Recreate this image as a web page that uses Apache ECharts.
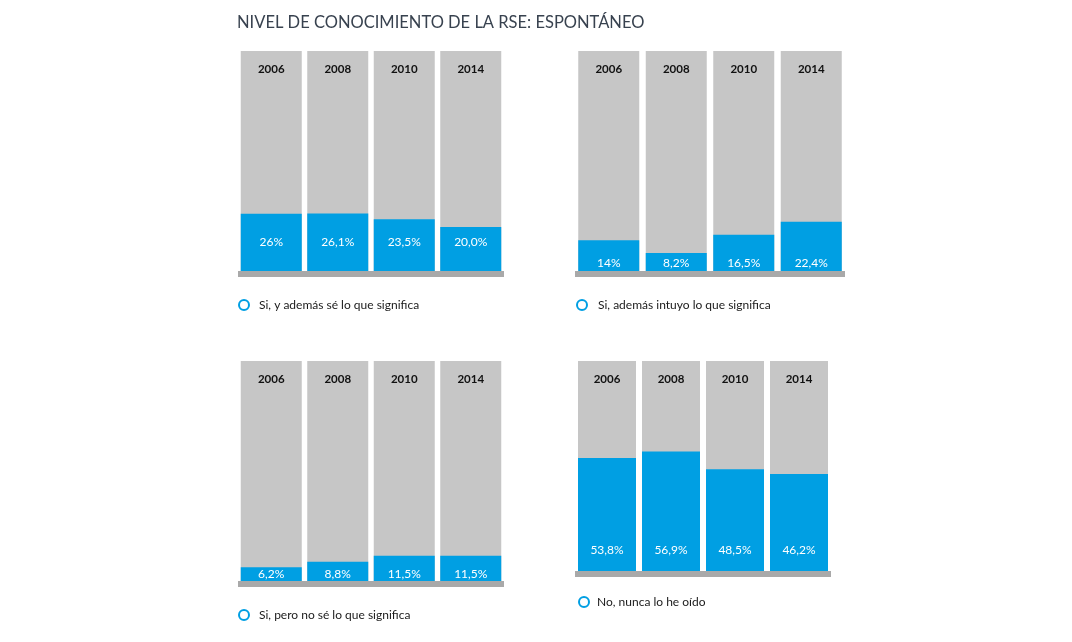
<!DOCTYPE html>
<html>
<head>
<meta charset="utf-8">
<script src="https://cdn.jsdelivr.net/npm/echarts@6/dist/echarts.min.js"></script>
<style>html,body{margin:0;padding:0;background:#fff;}#c{width:1072px;height:642px;}</style>
</head>
<body>
<div id="c"></div>
<script>
const years = ['2006', '2008', '2010', '2014'];
const titleText = 'NIVEL DE CONOCIMIENTO DE LA RSE: ESPONTÁNEO';
const seriesNames = ['Si, y además sé lo que significa', 'Si, además intuyo lo que significa', 'Si, pero no sé lo que significa', 'No, nunca lo he oído'];
const values1 = [26, 26.1, 23.5, 20.0];
const values2 = [14, 8.2, 16.5, 22.4];
const values3 = [6.2, 8.8, 11.5, 11.5];
const values4 = [53.8, 56.9, 48.5, 46.2];
const labels1 = ['26%', '26,1%', '23,5%', '20,0%'];
const labels2 = ['14%', '8,2%', '16,5%', '22,4%'];
const labels3 = ['6,2%', '8,8%', '11,5%', '11,5%'];
const labels4 = ['53,8%', '56,9%', '48,5%', '46,2%'];

const FONT = 'Lato, "Open Sans", sans-serif';
const BLUE = '#009fe3';
const GREY = '#c6c6c6';
const BASE = '#a9a9a9';

const panels = [
  { values: values1, labels: labels1, name: seriesNames[0], grid: { left: 238, top: 51, width: 266, height: 220 }, barWidth: 61, labelDist: 23, legend: { left: 238, top: 299 }, gap: 5 },
  { values: values2, labels: labels2, name: seriesNames[1], grid: { left: 575, top: 51, width: 270, height: 220 }, barWidth: 61, labelDist: 2, legend: { left: 576, top: 299 }, gap: 6 },
  { values: values3, labels: labels3, name: seriesNames[2], grid: { left: 238, top: 361, width: 266, height: 220 }, barWidth: 61, labelDist: 1, legend: { left: 238, top: 609 }, gap: 5 },
  { values: values4, labels: labels4, name: seriesNames[3], grid: { left: 575, top: 361, width: 256, height: 210 }, barWidth: 58, labelDist: 15, legend: { left: 578, top: 596 }, gap: 3 }
];

const option = {
  animation: false,
  backgroundColor: '#fff',
  title: {
    text: titleText, left: 237, top: 14, padding: 0,
    textStyle: { fontFamily: FONT, fontSize: 16.5, fontWeight: 'normal', color: '#38424f' }
  },
  grid: [], xAxis: [], yAxis: [], series: [], legend: []
};

panels.forEach((p, i) => {
  option.grid.push(Object.assign({ containLabel: false }, p.grid));
  // bottom axis: thick base line under the bars
  option.xAxis.push({
    type: 'category', gridIndex: i, data: years, position: 'bottom', offset: 3,
    axisLine: { show: true, onZero: false, lineStyle: { color: BASE, width: 6, cap: 'butt' } },
    axisTick: { show: false }, axisLabel: { show: false }, splitLine: { show: false }
  });
  // top axis: year labels inside the bars
  option.xAxis.push({
    type: 'category', gridIndex: i, data: years, position: 'top',
    axisLine: { show: false, onZero: false }, axisTick: { show: false }, splitLine: { show: false },
    axisLabel: { inside: true, margin: 12, fontFamily: FONT, fontSize: 11.5, fontWeight: 'bold', color: '#111' },
    z: 10
  });
  option.yAxis.push({ type: 'value', gridIndex: i, min: 0, max: 100, show: false });
  option.series.push({
    type: 'bar', name: p.name, xAxisIndex: i * 2, yAxisIndex: i,
    data: p.values, barWidth: p.barWidth,
    itemStyle: { color: BLUE },
    showBackground: true, backgroundStyle: { color: GREY },
    label: {
      show: true, position: 'insideBottom', distance: p.labelDist,
      fontFamily: FONT, fontSize: 12, color: '#fff',
      formatter: (d) => p.labels[d.dataIndex]
    }
  });
  option.legend.push({
    data: [p.name], left: p.legend.left, top: p.legend.top, padding: 0,
    icon: 'circle', itemWidth: 10, itemHeight: 10,
    itemStyle: { color: '#fff', borderColor: BLUE, borderWidth: 2 },
    textStyle: { fontFamily: FONT, fontSize: 12, color: '#1a1a1a', padding: [0, 0, 0, p.gap] },
    selectedMode: false
  });
});

const chart = echarts.init(document.getElementById('c'));
chart.setOption(option);
</script>
</body>
</html>
